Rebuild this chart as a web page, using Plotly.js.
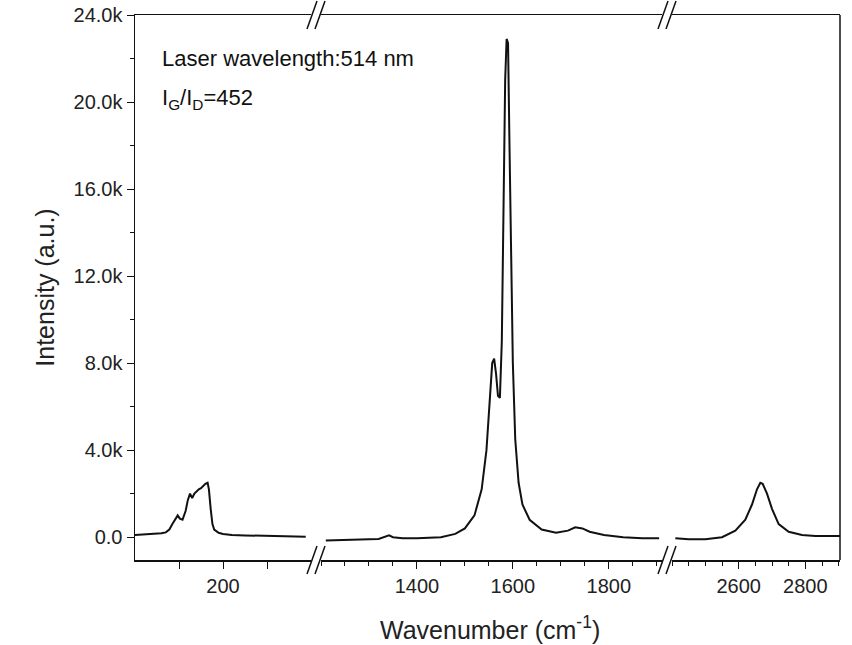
<!DOCTYPE html>
<html>
<head>
<meta charset="utf-8">
<script src="https://cdn.plot.ly/plotly-3.0.1.min.js"></script>
<style>html,body{margin:0;padding:0;background:#fff;}#chart{width:852px;height:645px;}</style>
</head>
<body>
<div id="chart"></div>
<script>
// Raman spectrum, broken x axis in three pieces (intensity in thousands)
const rbmX = [0,20,40,60,70,78,85,92,97,102,108,115,120,125,130,135,140,145,150,155,160,165,168,172,176,180,190,200,220,250,300,350,388];
const rbmY = [0.10,0.12,0.15,0.18,0.22,0.35,0.6,0.85,1.0,0.85,0.8,1.2,1.7,2.0,1.8,2.0,2.1,2.2,2.25,2.35,2.45,2.5,2.2,1.3,0.6,0.35,0.2,0.15,0.1,0.08,0.05,0.03,0.02];

const gX = [1210,1250,1300,1320,1335,1342,1350,1370,1400,1450,1480,1500,1520,1535,1545,1552,1557,1561,1565,1569,1573,1577,1581,1584,1587,1590,1593,1596,1600,1605,1612,1620,1635,1660,1690,1715,1730,1745,1760,1790,1830,1870,1905];
const gY = [-0.15,-0.14,-0.1,-0.08,0.02,0.08,0.0,-0.05,-0.05,0.0,0.15,0.4,1.0,2.2,4.0,6.5,8.0,8.2,7.5,6.5,6.4,9,16,21,22.9,22.7,18,13,8,4.5,2.5,1.5,0.8,0.35,0.2,0.3,0.45,0.4,0.25,0.1,0.0,-0.05,-0.05];

const twoDX = [2410,2450,2500,2550,2590,2620,2640,2655,2665,2672,2685,2700,2720,2750,2790,2830,2904];
const twoDY = [-0.05,-0.1,-0.1,0.0,0.3,0.8,1.5,2.2,2.5,2.45,2.0,1.3,0.6,0.25,0.1,0.05,0.05];

const yTickVals = [0,4,8,12,16,20,24];
const yTickText = ['0.0','4.0k','8.0k','12.0k','16.0k','20.0k','24.0k'];

const line = {color:'#111', width:2};
const traces = [
  {x: rbmX, y: rbmY, xaxis:'x', yaxis:'y', mode:'lines', line: line},
  {x: gX, y: gY, xaxis:'x2', yaxis:'y', mode:'lines', line: line},
  {x: twoDX, y: twoDY, xaxis:'x3', yaxis:'y', mode:'lines', line: line}
];

const W = 705, L = 135, H = 545;
function px(p){ return (p-L)/W; }

const tickFont = {family:'Liberation Sans, Arial', size:20, color:'#222'};
const xBase = {
  showline:true, linecolor:'#111', linewidth:1.5, mirror:true,
  ticks:'outside', ticklen:7, tickcolor:'#111', showgrid:false, zeroline:false,
  tickfont:tickFont,
  minor:{ticks:'outside', ticklen:4, tickcolor:'#111', dtick:50}
};

const breaks = [];
[316, 667].forEach(function(p){
  [0,1].forEach(function(yy){
    [-4, 4].forEach(function(d){
      breaks.push({type:'line', xref:'paper', yref:'paper',
        x0:px(p+d-5), y0:yy-14/H, x1:px(p+d+5), y1:yy+14/H,
        line:{color:'#111', width:1.5}});
    });
  });
});
// right frame edge
breaks.push({type:'line', xref:'paper', yref:'paper', x0:1, x1:1, y0:0, y1:1, line:{color:'#111', width:1.5}});

const layout = {
  width:852, height:645,
  margin:{l:L, r:12, t:15, b:85},
  paper_bgcolor:'#fff', plot_bgcolor:'#fff',
  showlegend:false,
  font:{family:'Liberation Sans, Arial', color:'#222'},
  xaxis: Object.assign({}, xBase, {domain:[0, px(311)], range:[0,400],
    tickvals:[100,200,300], ticktext:['','200',''], minor:{ticks:''}}),
  xaxis2: Object.assign({}, xBase, {domain:[px(321), px(662)], range:[1200,1911],
    tickvals:[1400,1600,1800], anchor:'y'}),
  xaxis3: Object.assign({}, xBase, {domain:[px(672), 1], range:[2400,2904],
    tickvals:[2600,2800], anchor:'y'}),
  yaxis: {range:[-1.05,24], showline:true, linecolor:'#111', linewidth:1.5,
    ticks:'outside', ticklen:7, tickcolor:'#111', showgrid:false, zeroline:false,
    tickvals:yTickVals, ticktext:yTickText, tickfont:tickFont,
    minor:{ticks:'outside', ticklen:4, tickcolor:'#111', dtick:2},
    title:{text:'Intensity (a.u.)', font:{size:25, color:'#222'}, standoff:12}},
  shapes: breaks,
  annotations: [
    {xref:'paper', yref:'paper', x:px(160), y:0.92, xanchor:'left', yanchor:'middle', showarrow:false,
      text:'Laser wavelength:514 nm', font:{size:22, color:'#111'}},
    {xref:'paper', yref:'paper', x:px(160), y:0.845, xanchor:'left', yanchor:'middle', showarrow:false,
      text:'I<sub>G</sub>/I<sub>D</sub>=452', font:{size:22, color:'#111'}},
    {xref:'paper', yref:'paper', x:px(490), y:-68/H, xanchor:'center', yanchor:'middle', showarrow:false,
      text:'Wavenumber (cm<sup>-1</sup>)', font:{size:25, color:'#222'}}
  ]
};

Plotly.newPlot('chart', traces, layout, {displayModeBar:false, staticPlot:true});
</script>
</body>
</html>
